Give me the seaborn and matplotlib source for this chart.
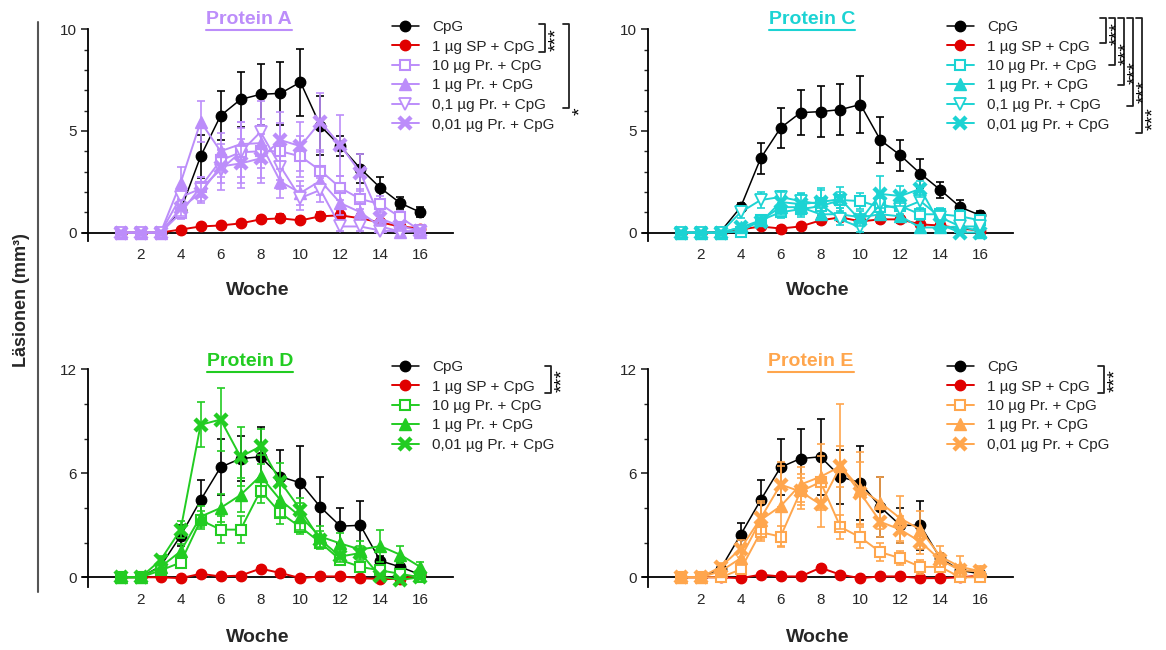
import numpy as np
import matplotlib
matplotlib.use('Agg')
import matplotlib.pyplot as plt
import seaborn as sns
from matplotlib.lines import Line2D
from matplotlib.ticker import MultipleLocator

sns.set_style('ticks')
plt.rcParams['font.family'] = ['Liberation Sans', 'DejaVu Sans']

W, H = 1166, 650

weeks = list(range(1, 17))

# Protein A
a_cpg = [0, 0, 0, 1.1, 3.75, 5.75, 6.55, 6.8, 6.85, 7.4, 5.25, 4.25, 3.15, 2.2, 1.45, 1.0]
a_cpg_err = [0, 0, 0, 0.25, 1.05, 1.2, 1.35, 1.5, 1.55, 1.65, 1.45, 0.5, 0.7, 0.55, 0.3, 0.25]
a_sp = [0, 0, 0, 0.15, 0.3, 0.35, 0.45, 0.65, 0.7, 0.6, 0.8, 0.85, 0.7, 0.5, 0.3, 0.2]
a_sp_err = [0, 0, 0, 0.05, 0.1, 0.1, 0.1, 0.15, 0.2, 0.15, 0.2, 0.2, 0.2, 0.15, 0.1, 0.1]
a_10 = [0, 0, 0, 0.95, 2.25, 3.55, 3.95, 4.0, 4.0, 3.75, 3.05, 2.2, 1.65, 1.4, 0.75, 0.1]
a_10_err = [0, 0, 0, 0.3, 0.5, 0.8, 1.2, 1.3, 1.4, 1.0, 0.9, 0.6, 0.5, 0.4, 0.3, 0.1]
a_1 = [0, 0, 0, 2.45, 5.45, 4.0, 4.35, 4.4, 2.5, 1.95, 2.55, 1.45, 1.0, 0.3, 0.05, 0.05]
a_1_err = [0, 0, 0, 0.8, 1.0, 0.9, 1.1, 1.2, 0.8, 0.6, 0.7, 0.6, 0.5, 0.3, 0.1, 0.1]
a_01 = [0, 0, 0, 1.75, 2.15, 3.1, 3.95, 4.95, 3.25, 1.7, 2.1, 0.3, 0.3, 0.1, 0.05, 0.1]
a_01_err = [0, 0, 0, 0.5, 0.6, 1.0, 1.5, 1.5, 1.1, 0.6, 0.6, 0.2, 0.2, 0.1, 0.1, 0.1]
a_001 = [0, 0, 0, 1.2, 1.95, 3.25, 3.4, 3.65, 4.55, 4.25, 5.45, 4.3, 2.95, 0.7, 0.3, 0.1]
a_001_err = [0, 0, 0, 0.4, 0.5, 0.8, 1.2, 1.2, 1.4, 1.2, 1.4, 1.5, 0.9, 0.4, 0.2, 0.1]

# Protein C
c_cpg = [0, 0, 0.05, 1.25, 3.65, 5.15, 5.9, 5.95, 6.05, 6.3, 4.55, 3.8, 2.9, 2.1, 1.25, 0.85]
c_cpg_err = [0, 0, 0, 0.2, 0.75, 1.0, 1.1, 1.25, 1.25, 1.4, 1.15, 0.75, 0.7, 0.4, 0.35, 0.2]
c_sp = [0, 0, 0, 0.15, 0.3, 0.2, 0.3, 0.6, 0.75, 0.55, 0.65, 0.65, 0.4, 0.35, 0.2, 0.1]
c_sp_err = [0, 0, 0, 0.05, 0.1, 0.1, 0.1, 0.2, 0.2, 0.2, 0.2, 0.2, 0.15, 0.1, 0.1, 0.05]
c_10 = [0, 0, 0, 0.05, 0.6, 1.0, 1.15, 1.3, 1.6, 1.55, 1.25, 1.3, 0.9, 0.9, 0.8, 0.6]
c_10_err = [0, 0, 0, 0.05, 0.2, 0.3, 0.4, 0.4, 0.4, 0.4, 0.4, 0.4, 0.3, 0.3, 0.3, 0.2]
c_1 = [0, 0, 0, 0.25, 0.6, 1.25, 1.25, 0.9, 0.9, 0.75, 0.9, 0.8, 0.25, 0.25, 0.3, 0.05]
c_1_err = [0, 0, 0, 0.1, 0.2, 0.4, 0.4, 0.3, 0.3, 0.3, 0.3, 0.3, 0.1, 0.1, 0.1, 0.05]
c_01 = [0, 0, 0, 1.0, 1.6, 1.75, 1.55, 1.4, 0.65, 0.25, 1.4, 1.15, 1.55, 0.75, 0.3, 0.3]
c_01_err = [0, 0, 0, 0.3, 0.4, 0.3, 0.4, 0.8, 0.3, 0.2, 0.5, 0.5, 0.5, 0.3, 0.2, 0.2]
c_001 = [0, 0, 0, 0.25, 0.5, 1.5, 1.4, 1.5, 1.65, 0.6, 1.9, 1.8, 2.15, 0.4, 0.0, 0.0]
c_001_err = [0, 0, 0, 0.1, 0.2, 0.5, 0.5, 0.6, 0.6, 0.3, 0.9, 0.5, 0.4, 0.2, 0.05, 0.05]

# Protein D
d_cpg = [0, 0, 0.65, 2.4, 4.45, 6.35, 6.85, 6.95, 5.8, 5.45, 4.05, 2.95, 3.0, 0.95, 0.6, 0.15]
d_cpg_err = [0, 0, 0.2, 0.6, 1.15, 1.6, 1.3, 1.7, 1.55, 2.15, 1.75, 1.05, 1.4, 0.3, 0.2, 0.1]
d_sp = [0, 0, 0, -0.05, 0.2, 0.05, 0.1, 0.5, 0.25, -0.05, 0.05, 0.05, -0.05, -0.1, -0.1, 0.15]
d_sp_err = [0, 0, 0, 0.05, 0.1, 0.05, 0.05, 0.15, 0.1, 0.05, 0.05, 0.05, 0.05, 0.05, 0.05, 0.05]
d_10 = [0, 0, 0.4, 0.85, 3.3, 2.75, 2.75, 5.0, 3.7, 2.9, 2.0, 1.0, 0.6, 0.4, 0.2, 0.0]
d_10_err = [0, 0, 0.1, 0.3, 0.5, 0.8, 0.8, 0.7, 0.6, 0.4, 0.3, 0.3, 0.2, 0.2, 0.1, 0.05]
d_1 = [0, 0, 0.6, 1.5, 3.5, 4.0, 4.75, 5.85, 4.45, 3.5, 2.35, 1.95, 1.6, 1.8, 1.3, 0.6]
d_1_err = [0, 0, 0.2, 0.4, 0.6, 0.8, 1.0, 1.2, 1.0, 0.8, 0.6, 0.6, 0.5, 0.9, 0.5, 0.3]
d_001 = [0, 0, 1.0, 2.75, 8.8, 9.1, 6.95, 7.55, 5.5, 3.9, 2.15, 1.2, 1.4, 0.05, -0.15, 0.0]
d_001_err = [0, 0, 0.2, 0.5, 1.3, 1.8, 1.7, 1.0, 1.1, 0.7, 0.5, 0.3, 0.4, 0.1, 0.1, 0.05]

# Protein E
e_cpg = [0, 0, 0.5, 2.45, 4.45, 6.35, 6.85, 6.95, 5.8, 5.45, 4.05, 3.0, 3.0, 1.1, 0.4, 0.2]
e_cpg_err = [0, 0, 0.2, 0.7, 1.15, 1.6, 1.7, 2.2, 1.55, 2.15, 1.75, 1.0, 1.4, 0.3, 0.2, 0.1]
e_sp = [0, 0, 0, -0.05, 0.15, 0.05, 0.05, 0.55, 0.15, -0.05, 0.05, 0.05, -0.05, -0.05, 0.0, 0.1]
e_sp_err = [0, 0, 0, 0.05, 0.1, 0.05, 0.05, 0.15, 0.1, 0.05, 0.05, 0.05, 0.05, 0.05, 0.05, 0.05]
e_10 = [0, 0, 0, 0.45, 2.6, 2.35, 4.95, 5.5, 2.9, 2.3, 1.45, 1.1, 0.6, 0.6, 0.0, 0.0]
e_10_err = [0, 0, 0, 0.2, 0.5, 0.6, 0.8, 1.5, 0.7, 0.6, 0.5, 0.4, 0.4, 0.3, 0.1, 0.1]
e_1 = [0, 0, 0.35, 1.1, 3.3, 4.1, 5.35, 5.8, 6.4, 5.1, 4.3, 3.4, 2.75, 1.2, 0.6, 0.35]
e_1_err = [0, 0, 0.1, 0.4, 1.1, 2.3, 1.0, 1.9, 3.6, 2.1, 1.5, 1.3, 1.1, 0.6, 0.6, 0.3]
e_001 = [0, 0, 0.6, 1.65, 3.4, 5.35, 4.95, 4.2, 6.4, 4.85, 3.2, 2.75, 2.05, 1.0, 0.4, 0.35]
e_001_err = [0, 0, 0.2, 0.5, 0.9, 1.3, 1.0, 1.3, 1.2, 1.8, 0.9, 0.8, 0.7, 0.4, 0.3, 0.2]

labels_6 = ['CpG', '1 µg SP + CpG', '10 µg Pr. + CpG', '1 µg Pr. + CpG',
            '0,1 µg Pr. + CpG', '0,01 µg Pr. + CpG']
labels_5 = ['CpG', '1 µg SP + CpG', '10 µg Pr. + CpG', '1 µg Pr. + CpG',
            '0,01 µg Pr. + CpG']

LAVENDER = '#BC8DFA'
CYAN = '#1CD3D3'
GREEN = '#22CC22'
ORANGE = '#FFA64D'
RED = '#E00000'

# marker style per group
STYLE = {
    'cpg': dict(marker='o', ms=7.5, mfc=None, mew=1.0),
    'sp': dict(marker='o', ms=7.5, mfc=None, mew=1.0),
    '10': dict(marker='s', ms=7, mfc='white', mew=1.5),
    '1': dict(marker='^', ms=8, mfc=None, mew=1.0),
    '01': dict(marker='v', ms=8, mfc='white', mew=1.3),
    '001': dict(marker='x', ms=9, mfc=None, mew=3.2),
}


def px(x, y):
    """pixel -> figure fraction"""
    return x / W, 1 - y / H


def add_axes_px(fig, x0, x1, ytop, ybot):
    return fig.add_axes([x0 / W, 1 - ybot / H, (x1 - x0) / W, (ybot - ytop) / H])


def draw_series(ax, vals, err, color, key, z):
    st = STYLE[key]
    mfc = st['mfc'] if st['mfc'] else color
    lw = 1.1 if color == 'black' else 1.4
    sns.lineplot(x=weeks, y=vals, ax=ax, color=color, linewidth=lw,
                 marker=st['marker'], markersize=st['ms'], markerfacecolor=mfc,
                 markeredgecolor=color, markeredgewidth=st['mew'],
                 clip_on=False, zorder=z + 1)
    line = ax.lines[-1]
    ax.errorbar(weeks, vals, yerr=err, fmt='none', ecolor=color, elinewidth=1.2,
                capsize=3, capthick=1.2, zorder=z, clip_on=False)
    return line


def style_axes(ax, ymax, ystep, ybottom):
    ax.set_xlim(-0.89, 17.64)
    ax.set_ylim(ybottom, ymax)
    ax.spines['top'].set_visible(False)
    ax.spines['right'].set_visible(False)
    ax.spines['left'].set_position(('data', -0.64))
    ax.spines['bottom'].set_position(('data', 0))
    for s in ['left', 'bottom']:
        ax.spines[s].set_linewidth(1.3)
        ax.spines[s].set_color('black')
    ax.set_xticks(range(2, 17, 2))
    ax.set_yticks([0, ymax / 2, ymax])
    ax.set_yticklabels([0, int(ymax / 2), int(ymax)])
    ax.yaxis.set_minor_locator(MultipleLocator(ystep))
    ax.tick_params(axis='x', length=0, pad=11, labelsize=11)
    ax.tick_params(axis='y', which='major', length=5, width=1.2, pad=3, labelsize=11)
    ax.tick_params(axis='y', which='minor', length=3, width=1.0)
    ax.set_xlabel('')
    ax.set_ylabel('')
    ax.patch.set_alpha(0)


def bracket(fig, x, ytop, ybot, ystar, stars, tick=6):
    xs = [x - tick, x, x, x - tick]
    ys = [ytop, ytop, ybot, ybot]
    pts = [px(a, b) for a, b in zip(xs, ys)]
    fig.add_artist(Line2D([p[0] for p in pts], [p[1] for p in pts],
                          transform=fig.transFigure, color='#222222', lw=1.3))
    # Sterne liegen hoch im Glyph, daher Mitte etwas rechts der Klammer
    fx, fy = px(x + 12, ystar)
    fig.text(fx, fy, stars, rotation=90, ha='center', va='center', fontsize=14,
             color='black')


def title_underlined(fig, renderer, x, y, text, color):
    fx, fy = px(x, y)
    t = fig.text(fx, fy, text, ha='center', va='center', fontsize=14,
                 fontweight='bold', color=color)
    bb = t.get_window_extent(renderer=renderer)
    bb = bb.transformed(fig.transFigure.inverted())
    uy = bb.y0 - 1.5 / H
    fig.add_artist(Line2D([bb.x0, bb.x1], [uy, uy], transform=fig.transFigure,
                          color=color, lw=1.5))


fig = plt.figure(figsize=(W / 100, H / 100), dpi=100)
renderer = fig.canvas.get_renderer()

panels = [
    # name, color, x offset, axes top, axes bottom, ymax, ystep, ybottom, data, labels, legend pos
    ('Protein A', LAVENDER, 0, 29.3, 240.7, 10, 1, -0.40,
     [(a_cpg, a_cpg_err, 'cpg'), (a_sp, a_sp_err, 'sp'), (a_10, a_10_err, '10'),
      (a_1, a_1_err, '1'), (a_01, a_01_err, '01'), (a_001, a_001_err, '001')],
     labels_6, (392, 20), (249, 20)),
    ('Protein C', CYAN, 560, 29.3, 240.7, 10, 1, -0.40,
     [(c_cpg, c_cpg_err, 'cpg'), (c_sp, c_sp_err, 'sp'), (c_10, c_10_err, '10'),
      (c_1, c_1_err, '1'), (c_01, c_01_err, '01'), (c_001, c_001_err, '001')],
     labels_6, (947, 20), (812, 20)),
    ('Protein D', GREEN, 0, 369.3, 587.0, 12, 2, -0.56,
     [(d_cpg, d_cpg_err, 'cpg'), (d_sp, d_sp_err, 'sp'), (d_10, d_10_err, '10'),
      (d_1, d_1_err, '1'), (d_001, d_001_err, '001')],
     labels_5, (392, 360), (250, 362)),
    ('Protein E', ORANGE, 560, 369.3, 587.0, 12, 2, -0.56,
     [(e_cpg, e_cpg_err, 'cpg'), (e_sp, e_sp_err, 'sp'), (e_10, e_10_err, '10'),
      (e_1, e_1_err, '1'), (e_001, e_001_err, '001')],
     labels_5, (947, 360), (811, 362)),
]

for name, color, xoff, ytop, ybot, ymax, ystep, ybottom, data, labels, leg_pos, title_pos in panels:
    ax = add_axes_px(fig, 83 + xoff, 453 + xoff, ytop, ybot)
    handles = []
    for i, (vals, err, key) in enumerate(data):
        if key == 'cpg':
            c = 'black'
        elif key == 'sp':
            c = RED
        else:
            c = color
        z = 3 + 2 * i
        handles.append(draw_series(ax, vals, err, c, key, z))
    style_axes(ax, ymax, ystep, ybottom)

    lx, ly = px(*leg_pos)
    ax.legend(handles, labels, loc='upper left', bbox_to_anchor=(lx, ly),
              bbox_transform=fig.transFigure, frameon=False, fontsize=11,
              handlelength=1.75, handletextpad=0.9, labelspacing=0.36,
              borderpad=0, borderaxespad=0)

    title_underlined(fig, renderer, title_pos[0], title_pos[1], name, color)

    wx, wy = px(258 + xoff, 291 if ytop < 100 else 637)
    fig.text(wx, wy, 'Woche', ha='center', va='center', fontsize=14, fontweight='bold')

# Signifikanz-Klammern
bracket(fig, 545, 24, 52, 40, '***')
bracket(fig, 569, 24, 108, 111, '*')
bracket(fig, 551, 366, 393, 381, '***')
bracket(fig, 1104, 366, 393, 381, '***')
for bx, bb, sy in [(1106, 43, 34), (1115, 65, 54), (1124, 85, 73),
                   (1133, 106, 92), (1142, 133, 119)]:
    bracket(fig, bx, 18, bb, sy, '***')

# gemeinsame y-Achsenbeschriftung
fig.add_artist(Line2D([38 / W, 38 / W], [1 - 22 / H, 1 - 592 / H],
                      transform=fig.transFigure, color='#555555', lw=1.5))
lx, ly = px(22, 300)
fig.text(lx, ly, 'Läsionen (mm³)', rotation=90, ha='center', va='center',
         fontsize=13, fontweight='bold')

fig.savefig('out.png', dpi=100)
